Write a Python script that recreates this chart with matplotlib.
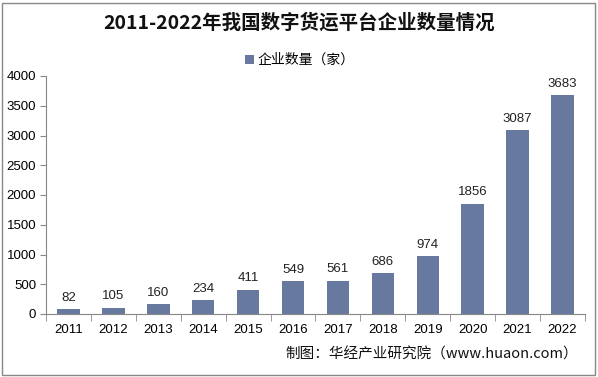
import matplotlib
matplotlib.use("Agg")
import matplotlib.pyplot as plt
from matplotlib.patches import Rectangle

plt.rcParams['font.family'] = ['Noto Sans CJK SC', 'DejaVu Sans']

years = ['2011', '2012', '2013', '2014', '2015', '2016', '2017', '2018', '2019', '2020', '2021', '2022']
counts = [82, 105, 160, 234, 411, 549, 561, 686, 974, 1856, 3087, 3683]
yticks = [0, 500, 1000, 1500, 2000, 2500, 3000, 3500, 4000]

W, H = 598, 377
fig = plt.figure(figsize=(W/100, H/100), dpi=100)
ax = fig.add_axes([46/W, 1-314/H, (585-46)/W, (314-76)/H])

color = '#68799F'
x = list(range(len(years)))
bars = ax.bar(x, counts, width=0.5, color=color, label='企业数量（家）')
for xi, v in zip(x, counts):
    ax.text(xi, v + 90, str(v), ha='center', va='bottom', fontsize=9.5, color='#222222',
            family=['Liberation Sans', 'DejaVu Sans'])

ax.set_xlim(-0.5, len(years) - 0.5)
ax.set_ylim(0, 4000)
ax.set_yticks(yticks)
ax.set_yticklabels([str(t) for t in yticks], family=['Liberation Sans'], fontsize=9.5)
ax.set_xticks(x)
ax.set_xticklabels(years, family=['Liberation Sans'], fontsize=9.5)
ax.set_xticks([i - 0.5 for i in range(len(years) + 1)], minor=True)
ax.tick_params(axis='x', which='major', length=0, pad=7)
ax.tick_params(axis='x', which='minor', length=5, color='#888888')
ax.tick_params(axis='y', length=4, color='#888888', pad=3)
for s in ['top', 'right']:
    ax.spines[s].set_visible(False)
for s in ['left', 'bottom']:
    ax.spines[s].set_color('#888888')

fig.text(0.5, 1-23/H, '2011-2022年我国数字货运平台企业数量情况', ha='center', va='center',
         fontsize=14, fontweight='bold', color='#111111')
leg = fig.legend(handles=[bars], loc='center', bbox_to_anchor=(300/W, 1-60/H), frameon=False,
                 fontsize=10, handlelength=0.6, handleheight=0.6, handletextpad=0.3)
fig.text(578/W, 1-355/H, '制图：华经产业研究院（www.huaon.com）', ha='right', va='center',
         fontsize=10.5, color='#111111')

fig.patches.append(Rectangle((2/W, 2/H), 1-5/W, 1-5/H, transform=fig.transFigure,
                             fill=False, edgecolor='#888888', linewidth=1))
fig.savefig('out.png', dpi=100)
